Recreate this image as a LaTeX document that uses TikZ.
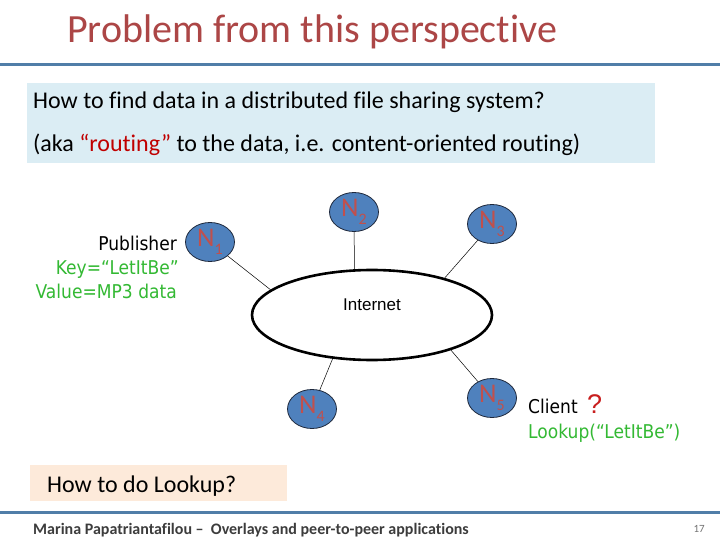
\documentclass[tikz,border=0pt]{standalone}
\usepackage{fontspec}
\setmainfont[Ligatures=NoCommon]{Carlito}
\newfontfamily\arialf{Liberation Sans}
\newfontfamily\tahf[FakeStretch=0.9]{DejaVu Sans}
\usetikzlibrary{shapes.geometric}
\definecolor{titlered}{RGB}{172,70,70}
\definecolor{ruleblue}{RGB}{80,126,168}
\definecolor{boxblue}{RGB}{219,237,244}
\definecolor{peach}{RGB}{253,234,218}
\definecolor{nodefill}{RGB}{79,129,189}
\definecolor{nodeedge}{RGB}{30,40,60}
\definecolor{nodetext}{RGB}{192,80,77}
\definecolor{greentext}{RGB}{51,185,51}
\definecolor{routered}{RGB}{192,0,0}
\definecolor{qred}{RGB}{200,30,30}
\definecolor{footgray}{RGB}{60,60,60}
\newcommand{\nlab}[1]{N\raisebox{-0.32em}{\fontsize{16}{16}\selectfont #1}}
\tikzset{
  peernode/.style={ellipse,draw=nodeedge,line width=0.8pt,fill=nodefill,inner sep=0pt,
    minimum width=49pt,minimum height=39pt,text=nodetext,
    font=\fontsize{27}{27}\selectfont},
  link/.style={draw=black,line width=0.5pt},
  lbl/.style={inner sep=0pt,anchor=base west},
  lblr/.style={inner sep=0pt,anchor=base east},
  tah/.style={font=\tahf\fontsize{19}{19}\selectfont}
}
\begin{document}
\begin{tikzpicture}[x=1pt,y=-1pt]
\useasboundingbox (0,0) rectangle (720,540);
\fill[white] (0,0) rectangle (720,540);
% title
\node[lbl,text=titlered,font=\fontsize{40}{40}\selectfont] (title) at (67,43) {Problem from this perspective};
\fill[ruleblue] (0,63.5) rectangle (720,66.5);
% question box
\fill[boxblue] (27,83) rectangle (655,163);
\node[lbl,font=\fontsize{24}{24}\selectfont] (q1) at (33,109) {How to find data in a distributed file sharing system?};
\node[lbl,font=\fontsize{24}{24}\selectfont] (q2) at (33,152) {(aka \textcolor{routered}{“routing”} to the data, i.e. content-oriented routing)};
% internet
\node[ellipse,draw=black,line width=2.6pt,minimum width=240pt,minimum height=90pt,inner sep=0pt] (inet) at (372,315) {};
\node[font=\arialf\fontsize{17}{17}\selectfont,inner sep=0pt] (inetl) at (372,305) {Internet};
% peers
\node[peernode] (n1) at (210,242) {\nlab{1}};
\node[peernode] (n2) at (354,212) {\nlab{2}};
\node[peernode] (n3) at (492,224) {\nlab{3}};
\node[peernode] (n4) at (312,409) {\nlab{4}};
\node[peernode] (n5) at (492,398) {\nlab{5}};
\draw[link] (n1) -- (inet.166);
\draw[link] (n2) -- (inet.111);
\draw[link] (n3) -- (inet.27);
\draw[link] (n4) -- (inet.228);
\draw[link] (n5) -- (inet.-24);
% publisher
\node[lblr,tah] (pub) at (177,250) {Publisher};
\node[lblr,tah,text=greentext] (key) at (179,274) {Key=“LetItBe”};
\node[lblr,tah,text=greentext] (val) at (177,298) {Value=MP3 data};
% client
\node[lbl,tah] (cli) at (528,413) {Client};
\node[lbl,text=qred,font=\arialf\fontsize{27}{27}\selectfont] (qm) at (587,413) {?};
\node[lbl,tah,text=greentext] (look) at (528,438) {Lookup(“LetItBe”)};
% lookup box
\fill[peach] (30,465) rectangle (287,501);
\node[lbl,font=\fontsize{24}{24}\selectfont] (how) at (47,492) {How to do Lookup?};
% footer
\fill[ruleblue] (0,510.5) rectangle (720,513.5);
\node[lbl,text=footgray,font=\bfseries\fontsize{16}{16}\selectfont] (foot) at (33,534) {Marina Papatriantafilou –\ \ Overlays and peer-to-peer applications};
\node[lblr,text=black!55,font=\fontsize{11}{11}\selectfont] (pg) at (705,532) {17};
\end{tikzpicture}
\end{document}
